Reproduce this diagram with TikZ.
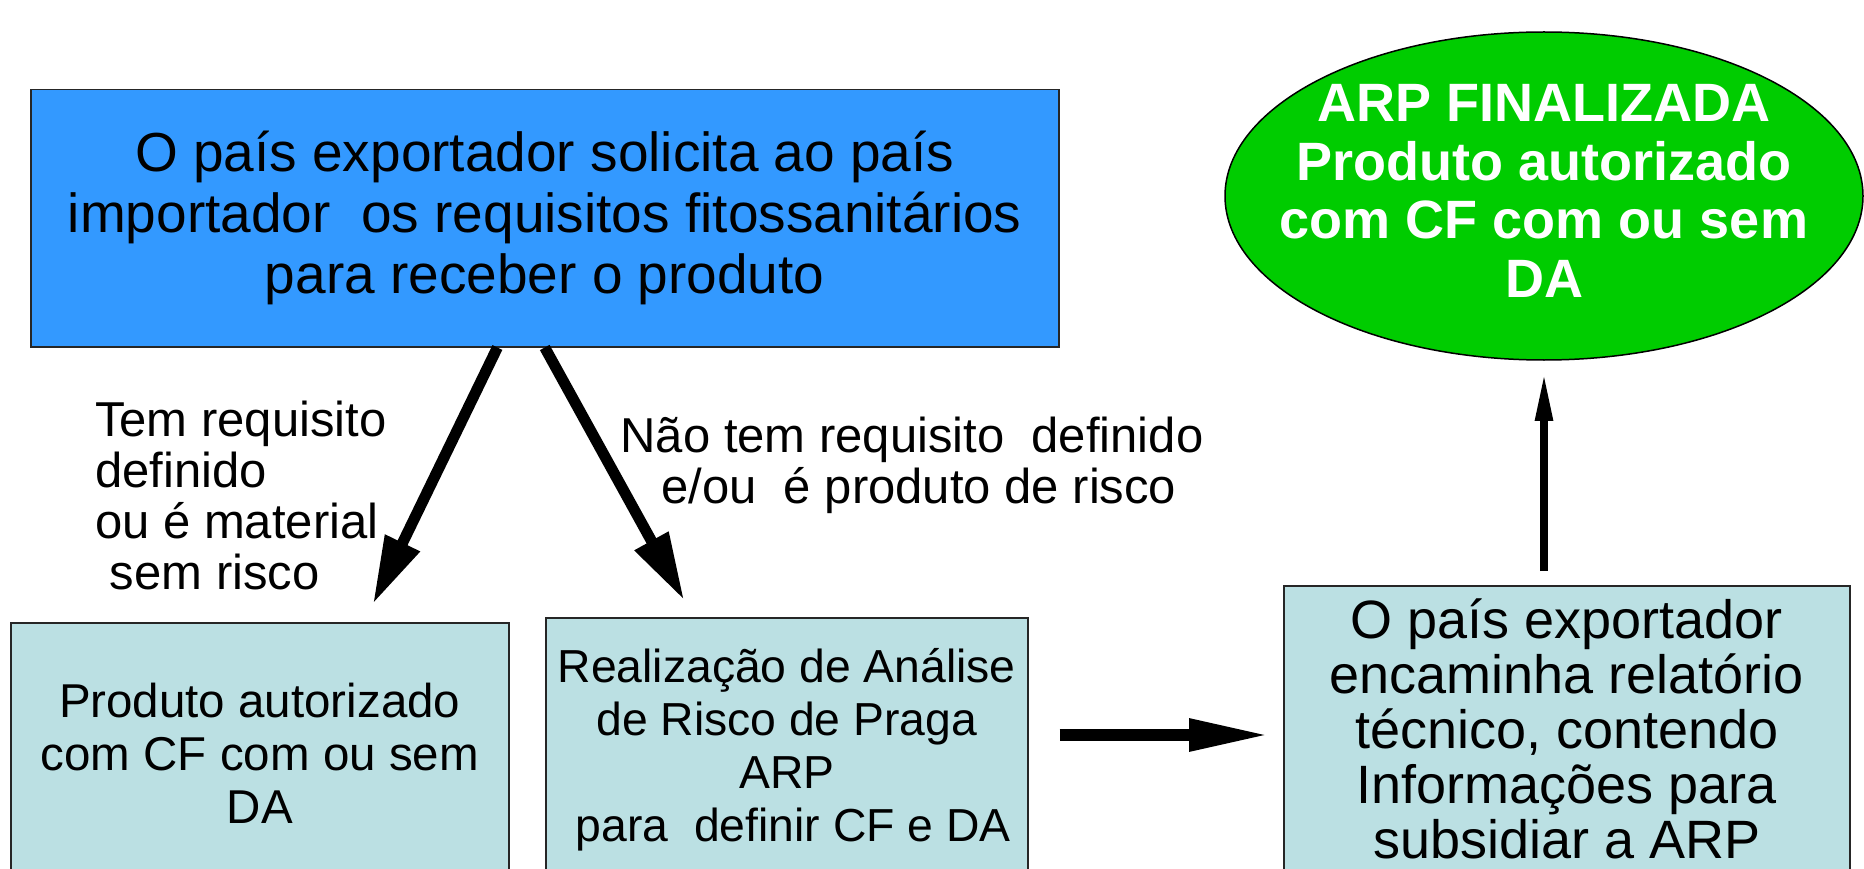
\documentclass[tikz,border=0pt]{standalone}
\usepackage{fontspec}
\setmainfont{Liberation Sans}
\usepackage{xcolor}
\usetikzlibrary{arrows.meta,calc,shapes.geometric}
\definecolor{reqblue}{RGB}{51,153,255}
\definecolor{okgreen}{RGB}{0,204,0}
\definecolor{stepcyan}{RGB}{187,224,227}
\tikzset{
	flowbox/.style={draw=black!85, line width=1.5pt, fill=stepcyan, align=center, anchor=north west, inner sep=0pt},
	fatarrow/.style={line width=11pt, -{Triangle[length=68pt,width=36pt]}},
	flatarrow/.style={line width=12pt, -{Triangle[length=81pt,width=30pt]}},
	thinarrow/.style={line width=8pt, -{Triangle[length=50pt,width=16pt]}}
}

\begin{document}
\begin{tikzpicture}[x=1pt,y=-1pt]
			\useasboundingbox (0,0) rectangle (1864,869);

			% Draw the boxes
			\node[flowbox, fill=reqblue, minimum width=1028pt, minimum height=257pt, font=\fontsize{55}{61}\selectfont] (request) at (30,89) {O país exportador solicita ao país\\importador\ \ os requisitos fitossanitários\\para receber o produto};
			\node[flowbox, minimum width=498pt, minimum height=262pt, font=\fontsize{47.5}{53}\selectfont] (authorized) at (10,622) {Produto autorizado\\com CF com ou sem\\DA};
			\node[flowbox, minimum width=482pt, minimum height=264pt, font=\fontsize{46.3}{53}\selectfont] (analysis) at (545,617) {Realização de Análise\\de Risco de Praga\\ARP\\\ para\ \ definir CF e DA};
			\node[flowbox, minimum width=566pt, minimum height=313pt, text depth=28pt, font=\fontsize{54}{55}\selectfont] (report) at (1283,585) {O país exportador\\encaminha relatório\\técnico, contendo\\Informações para\\subsidiar a ARP};

			% Draw the final ellipse
			\node[ellipse, draw=black, line width=1.5pt, fill=okgreen, inner sep=0pt, minimum width=638pt, minimum height=328pt] (done) at (1544,196) {};
			\node[text=white, align=center, inner sep=0pt, font=\bfseries\fontsize{54}{58.5}\selectfont] (donetext) at ([yshift=5pt]done.center) {ARP FINALIZADA\\Produto autorizado\\com CF com ou sem\\DA};

			% Draw the labels
			\node[anchor=west, align=left, inner sep=0pt, font=\fontsize{49}{51}\selectfont] (haslabel) at (95,495) {Tem requisito\\definido\\ou é material\\\hspace{0.3em}sem risco};
			\node[align=center, inner sep=0pt, font=\fontsize{49}{51}\selectfont] (nolabel) at (912,465) {Não tem requisito\ \ definido\\\ e/ou\ \ é produto de risco};

			% Draw the arrows
			\coordinate (midrow) at (0,735);
			\draw[fatarrow, shorten >=20pt] ($(request.south west)!0.454!(request.south east)$) -- ($(authorized.north west)!0.709!(authorized.north east)$);
			\draw[fatarrow, shorten >=19pt] (request.south) -- ($(analysis.north west)!0.307!(analysis.north east)$);
			\draw[flatarrow, shorten <=31pt, shorten >=13pt] (analysis.east |- midrow) -- (report.west |- midrow);
			\draw[thinarrow, shorten <=14pt, shorten >=10pt] (report.north -| done.south) -- (done.south);
		\end{tikzpicture}
\end{document}
